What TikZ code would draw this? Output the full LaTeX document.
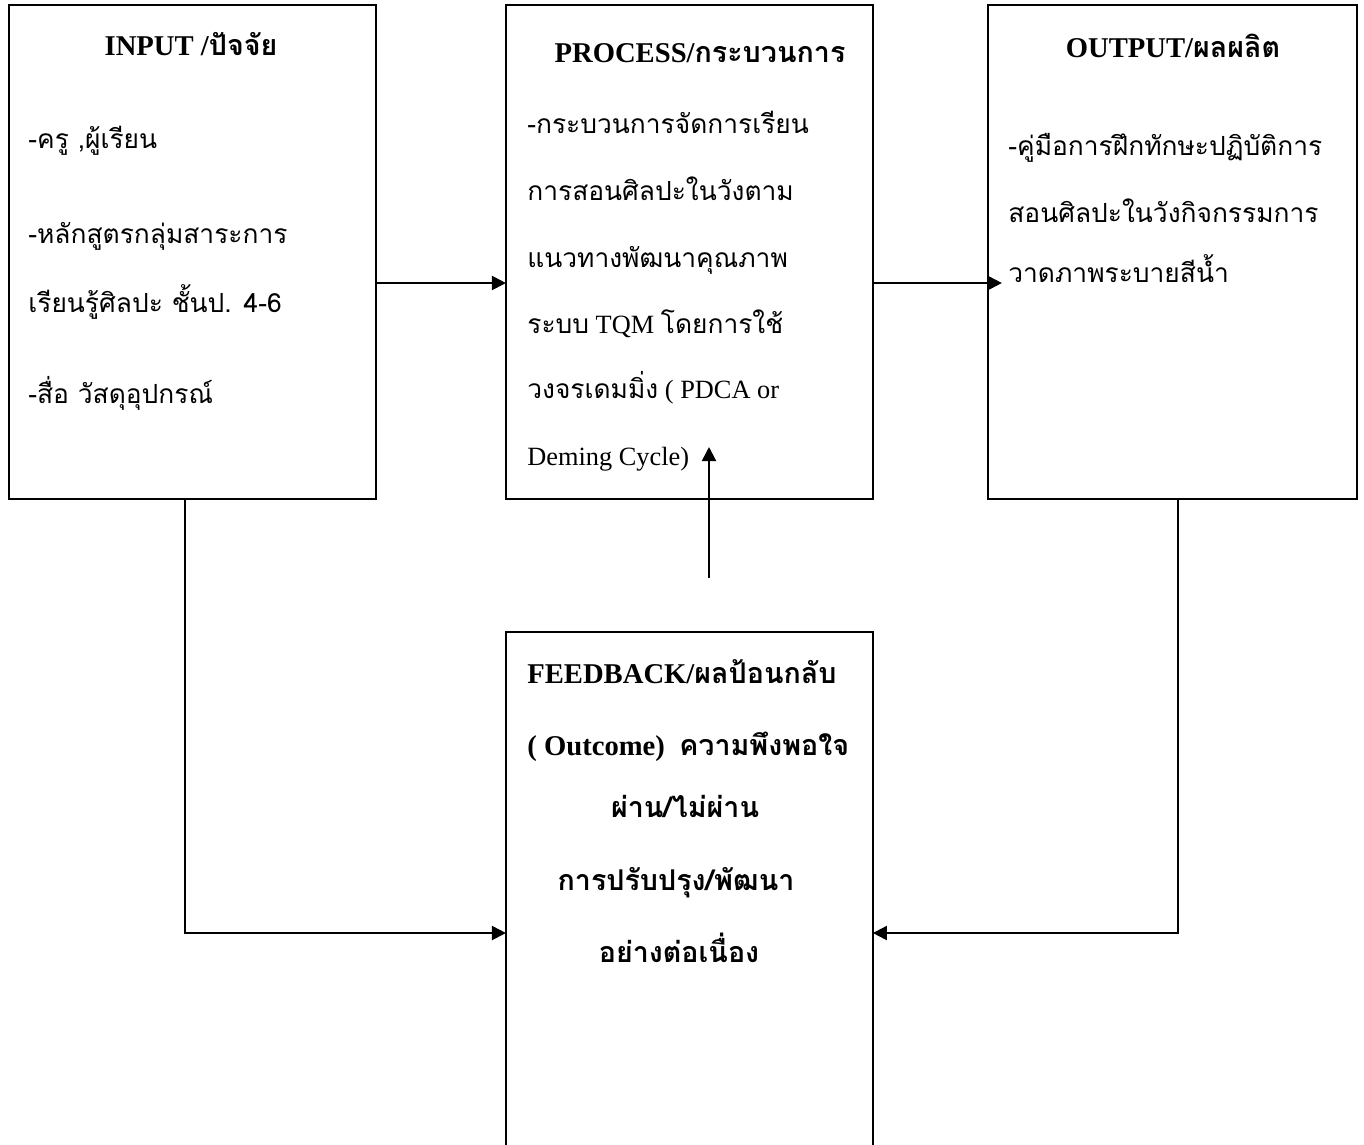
\documentclass[tikz,border=0pt]{standalone}
\usepackage{fontspec}
\setmainfont{Liberation Serif}
\newfontfamily\thaifont[Script=Thai]{Loma}
\usetikzlibrary{arrows.meta,positioning}

\begin{document}
\begin{tikzpicture}[% pixel grid, y runs downwards
    x=0.02cm,y=-0.02cm,
    box/.style={
      rectangle,draw=black,line width=1.15pt,
      inner sep=0pt,outer sep=0pt,
      minimum width=7.34cm,	% all four frames are this wide
      minimum height=9.88cm
    },
    ttl/.style={anchor=base,inner sep=0pt,font=\bfseries\fontsize{16.3}{19}\selectfont},
    txt/.style={anchor=base west,inner sep=0pt,font=\fontsize{15}{18}\selectfont},
    thtxt/.style={txt,font=\thaifont\fontsize{15}{18}\selectfont},
    flow/.style={draw,line width=1.15pt,-{Triangle[length=8pt,width=8pt]}}
  ]
  \useasboundingbox (0,0) rectangle (1364,1144);

  % the four frames
  \node[box] (IN) at (192.5,252) {};
  \node[box,right=2.6cm of IN] (PR) {};
  \node[box,right=2.3cm of PR,minimum width=7.38cm] (OUT) {};
  \node[box,below=2.66cm of PR,minimum height=10.6cm] (FB) {};

  % headings
  \node[ttl] (INt) at (191,55) {INPUT /{\thaifont ปัจจัย}};
  \node[ttl] (PRt) at (700,62) {PROCESS/{\thaifont กระบวนการ}};
  \node[ttl] (OUTt) at (1173,57) {OUTPUT/{\thaifont ผลผลิต}};
  \node[ttl,anchor=base west] (FBt) at (527,683) {FEEDBACK/{\thaifont ผลป้อนกลับ}};

  % input
  \node[thtxt] (in1) at (28,148) {-ครู ,ผู้เรียน};
  \node[thtxt] (in2) at (28,243) {-หลักสูตรกลุ่มสาระการ};
  \node[thtxt] (in3) at (28,312) {เรียนรู้ศิลปะ ชั้นป. 4-6};
  \node[thtxt] (in4) at (28,403) {-สื่อ วัสดุอุปกรณ์};

  % process
  \node[thtxt] (pr1) at (527,133) {-กระบวนการจัดการเรียน};
  \node[thtxt] (pr2) at (527,200) {การสอนศิลปะในวังตาม};
  \node[thtxt] (pr3) at (527,267) {แนวทางพัฒนาคุณภาพ};
  \node[txt] (pr4) at (527,333) {{\thaifont ระบบ} TQM {\thaifont โดยการใช้}};
  \node[txt] (pr5) at (527,398) {{\thaifont วงจรเดมมิ่ง} ( PDCA or};
  \node[txt] (pr6) at (527,465) {Deming Cycle)};

  % output
  \node[thtxt] (out1) at (1008,155) {-คู่มือการฝึกทักษะปฏิบัติการ};
  \node[thtxt] (out2) at (1008,222) {สอนศิลปะในวังกิจกรรมการ};
  \node[thtxt] (out3) at (1008,282) {วาดภาพระบายสีน้ำ};

  % feedback
  \node[ttl,anchor=base west] (fb1) at (527,755) {( Outcome)\ \ {\thaifont ความพึงพอใจ}};
  \node[ttl] (fb2) at (685,817) {\thaifont ผ่าน/ไม่ผ่าน};
  \node[ttl] (fb3) at (676,890) {\thaifont การปรับปรุง/พัฒนา};
  \node[ttl] (fb4) at (679,962) {\thaifont อย่างต่อเนื่อง};

  % connectors
  \coordinate (rowA) at (0,283);
  \coordinate (rowB) at (0,933);
  \coordinate (inx) at (185,0);
  \coordinate (outx) at (1178,0);
  \coordinate (fbtail) at (709,578);
  \coordinate (fbhead) at (709,447);
  \draw[flow] (IN.east |- rowA) -- (PR.west |- rowA);
  \draw[flow,shorten >=-8pt] (PR.east |- rowA) -- (OUT.west |- rowA);
  \draw[flow] (fbtail) -- (fbhead);
  \draw[flow] (IN.south -| inx) |- (FB.west |- rowB);
  \draw[flow] (OUT.south -| outx) |- (FB.east |- rowB);
\end{tikzpicture}
\end{document}
